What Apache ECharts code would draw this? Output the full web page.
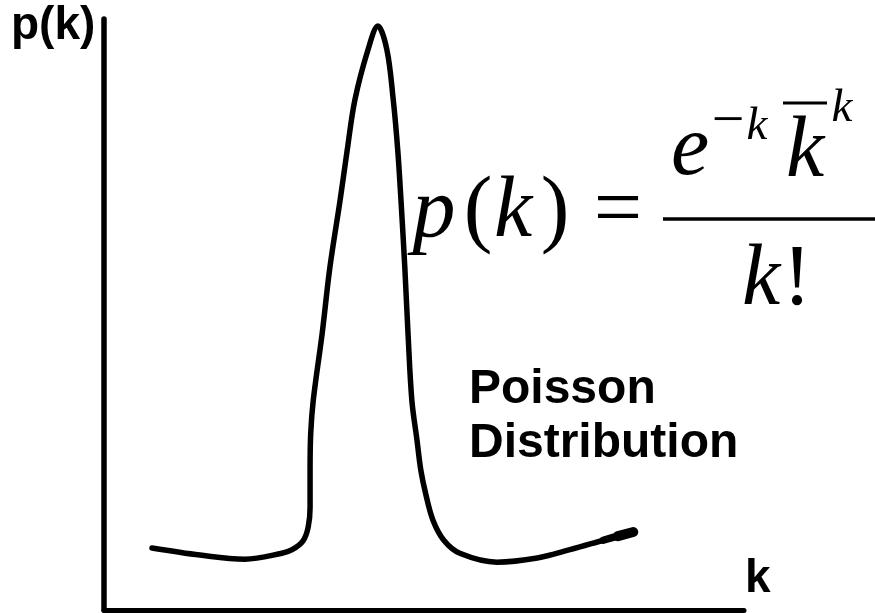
<!DOCTYPE html>
<html>
<head>
<meta charset="utf-8">
<script src="https://cdn.jsdelivr.net/npm/echarts@6/dist/echarts.min.js"></script>
<style>
  html, body { margin: 0; padding: 0; background: #fff; }
  #chart { width: 875px; height: 613px; }
</style>
</head>
<body>
<div id="chart"></div>
<script>
// Values (arbitrary units, no tick labels on the original)
const kValues = [7.5, 15.0, 22.0, 27.8, 29.4, 31.1, 31.9, 32.2, 32.2, 32.3, 32.7, 34.1, 35.3, 36.9, 38.0, 39.2, 41.25, 42.8,
                 44.2, 45.2, 45.9, 46.4, 47.0, 47.5, 48.1, 48.9, 49.5, 50.3, 51.4, 53.1, 55.6, 61.4, 67.7, 72.8, 78.0, 80.3, 82.7];
const pValues = [10.5, 9.3, 8.6, 9.6, 10.2, 11.7, 14.0, 17.4, 23.7, 29.9, 35.5, 46.9, 58.0, 69.4, 77.8, 86.3, 94.8, 98.8,
                 94.8, 86.3, 77.8, 69.4, 58.0, 46.9, 35.5, 28.8, 23.7, 19.5, 15.2, 11.8, 9.6, 8.1, 8.8, 10.2, 11.8, 12.5, 13.2];
const xAxisName = 'k';
const yAxisName = 'p(k)';
const labelLines = ['Poisson', 'Distribution'];

const curve = kValues.map((k, i) => [k, pValues[i]]);

const chart = echarts.init(document.getElementById('chart'), null, { renderer: 'canvas' });

const sans = 'bold 46px "Liberation Sans", Arial, sans-serif';
const sansL = 'bold 48px "Liberation Sans", Arial, sans-serif';
const big = 'italic 86px "Liberation Serif", "Times New Roman", serif';
const bigUp = '86px "Liberation Serif", "Times New Roman", serif';
const sup = 'italic 47px "Liberation Serif", "Times New Roman", serif';
const supUp = '58px "Liberation Serif", "Times New Roman", serif';

function t(text, x, y, font, align) {
  return { type: 'text', silent: true, z: 10,
    style: { text: text, x: x, y: y, font: font, fill: '#000',
             textAlign: align || 'center', textVerticalAlign: 'middle' } };
}

const lineBase = { type: 'line', symbol: 'none', silent: true, animation: false };

chart.setOption({
  animation: false,
  backgroundColor: '#fff',
  grid: { left: 104, top: 19, width: 640, height: 591 },
  xAxis: { type: 'value', min: 0, max: 100,
    axisLine: { show: true, lineStyle: { color: '#000', width: 5 } },
    axisTick: { show: false }, axisLabel: { show: false }, splitLine: { show: false } },
  yAxis: { type: 'value', min: 0, max: 100,
    axisLine: { show: true, lineStyle: { color: '#000', width: 5.5 } },
    axisTick: { show: false }, axisLabel: { show: false }, splitLine: { show: false } },
  series: [
    Object.assign({}, lineBase, { data: curve, smooth: 0.35,
      lineStyle: { color: '#000', width: 5.5, cap: 'round', join: 'round' } }),
    Object.assign({}, lineBase, { data: curve.slice(-3), smooth: 0.35,
      lineStyle: { color: '#000', width: 7.5, cap: 'round', join: 'round' } }),
    Object.assign({}, lineBase, { data: curve.slice(-2),
      lineStyle: { color: '#000', width: 10, cap: 'round', join: 'round' } })
  ],
  graphic: [
    t(yAxisName, 11, 26, sans, 'left'),
    t(xAxisName, 745, 579, sans, 'left'),
    t(labelLines[0], 469, 390, sansL, 'left'),
    t(labelLines[1], 469, 444, sansL, 'left'),
    // formula  p(k) = e^{-k} \bar{k}^k / k!
    t('p', 434, 213, big),
    t('(', 478, 213, bigUp),
    t('k', 513, 213, big),
    t(')', 555, 213, bigUp),
    t('=', 618, 213, bigUp),
    t('e', 690, 151, big),
    t('\u2212', 728, 123, supUp),
    t('k', 757, 127, sup),
    t('k', 805, 153, big),
    t('k', 842, 109, sup),
    t('k', 761, 281, big),
    t('!', 797, 281, bigUp),
    { type: 'line', silent: true, z: 10, shape: { x1: 783, y1: 103, x2: 827, y2: 103 },
      style: { stroke: '#000', lineWidth: 3 } },
    { type: 'line', silent: true, z: 10, shape: { x1: 663, y1: 219, x2: 875, y2: 219 },
      style: { stroke: '#000', lineWidth: 3.5 } }
  ]
});
</script>
</body>
</html>
